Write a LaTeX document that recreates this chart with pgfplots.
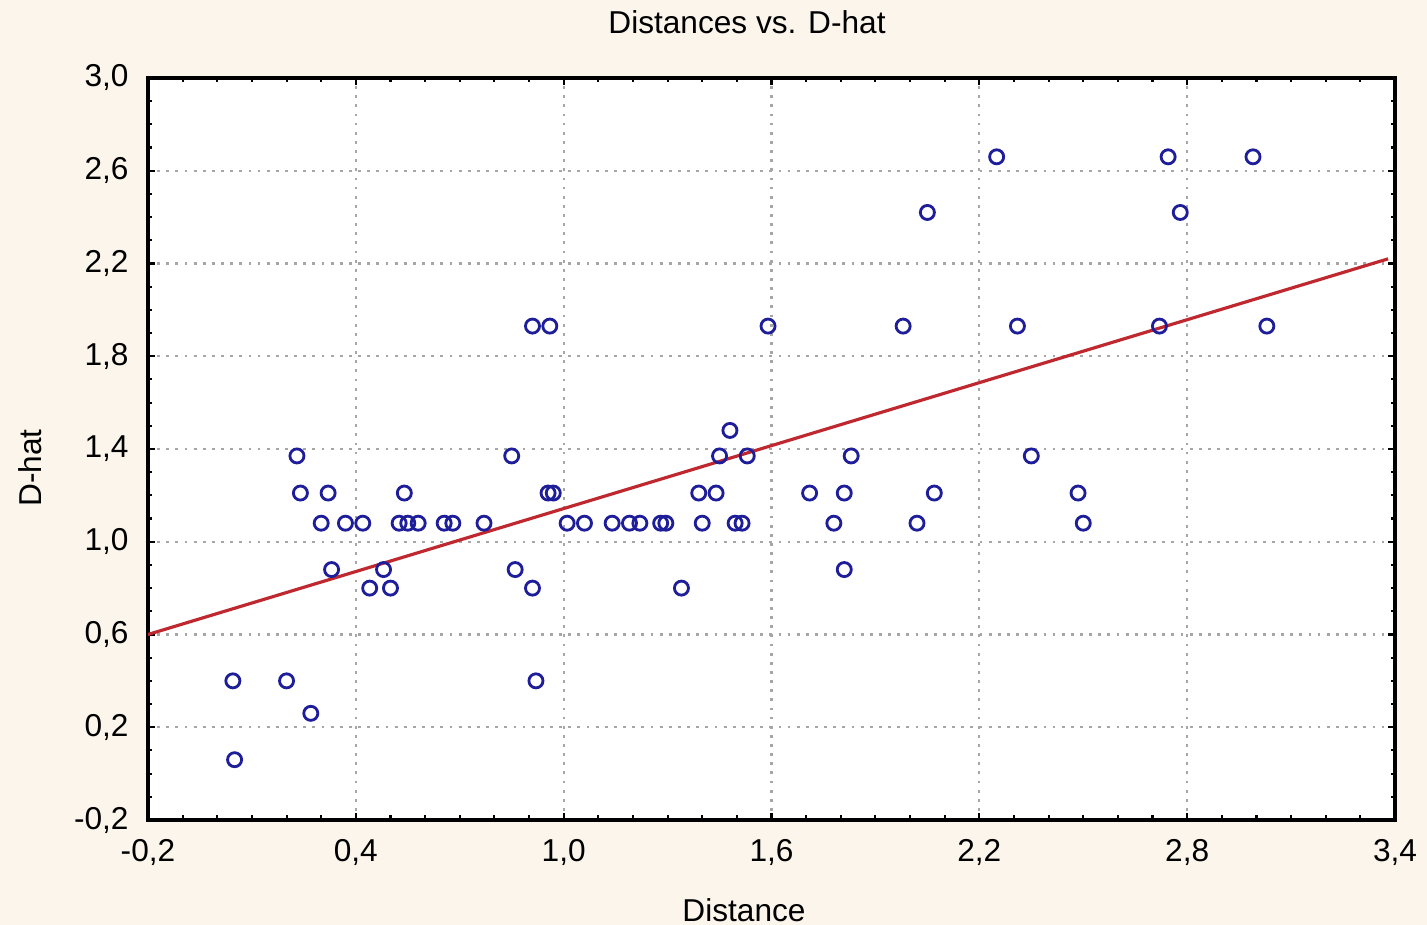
\documentclass[border=0pt]{standalone}
\usepackage{fontspec}
\setmainfont{Liberation Sans}
\usepackage{pgfplots}
\pgfplotsset{compat=1.18}

\definecolor{bgcream}{HTML}{FCF5EC}
\definecolor{ptblue}{HTML}{1E1E9A}
\definecolor{fitred}{HTML}{C02830}

\pgfplotstableread{
x y
2.25 2.66
2.745 2.66
2.99 2.66
2.05 2.42
2.78 2.42
0.91 1.93
0.96 1.93
1.59 1.93
1.98 1.93
2.31 1.93
2.72 1.93
3.03 1.93
1.48 1.48
0.23 1.37
0.85 1.37
1.45 1.37
1.53 1.37
1.83 1.37
2.35 1.37
0.24 1.21
0.32 1.21
0.54 1.21
0.955 1.21
0.97 1.21
1.39 1.21
1.44 1.21
1.71 1.21
1.81 1.21
2.07 1.21
2.485 1.21
0.30 1.08
0.37 1.08
0.42 1.08
0.525 1.08
0.55 1.08
0.58 1.08
0.655 1.08
0.68 1.08
0.77 1.08
1.01 1.08
1.06 1.08
1.14 1.08
1.19 1.08
1.22 1.08
1.28 1.08
1.295 1.08
1.40 1.08
1.495 1.08
1.515 1.08
1.78 1.08
2.02 1.08
2.50 1.08
0.33 0.88
0.48 0.88
0.86 0.88
1.81 0.88
0.44 0.80
0.50 0.80
0.91 0.80
1.34 0.80
0.045 0.40
0.20 0.40
0.92 0.40
0.27 0.26
0.05 0.06
}\distdata

\begin{document}
\begin{tikzpicture}
\fill[bgcream] (-1.48cm,-1.05cm) rectangle (12.79cm,8.20cm);
\begin{axis}[
  scale only axis,
  width=12.47cm, height=7.42cm,
  xmin=-0.2, xmax=3.4, ymin=-0.2, ymax=3.0,
  xtick={-0.2,0.4,1.0,1.6,2.2,2.8,3.4},
  ytick={-0.2,0.2,0.6,1.0,1.4,1.8,2.2,2.6,3.0},
  minor x tick num=5,
  minor y tick num=3,
  tick align=inside,
  major tick length=0.07cm,
  minor tick length=0.045cm,
  every tick/.style={black, line width=0.6pt},
  axis line style={line width=1pt},
  axis background/.style={fill=white},
  grid=major,
  major grid style={gray!70, line width=0.6pt, dash pattern=on 0.8pt off 1.8pt},
  font=\fontsize{9}{11}\selectfont,
  /pgf/number format/.cd, use comma, fixed, fixed zerofill, precision=1, assume math mode=true,
  /pgfplots/.cd,
  xticklabel style={yshift=-2pt},
  yticklabel style={xshift=-2pt},
]
\addplot[fitred, line width=0.9pt] coordinates {(-0.2,0.60) (3.38,2.22)};
\addplot[only marks, mark=o, mark size=2pt, mark options={ptblue, line width=0.8pt}] table {\distdata};
\end{axis}
\node[font=\fontsize{9}{11}\selectfont] at (5.99cm,7.98cm) {Distances vs. D-hat};
\node[font=\fontsize{9}{11}\selectfont] at (5.96cm,-0.90cm) {Distance};
\node[font=\fontsize{9}{11}\selectfont, rotate=90] at (-1.18cm,3.52cm) {D-hat};
\pgfresetboundingbox
\useasboundingbox (-1.48cm,-1.05cm) rectangle (12.79cm,8.20cm);
\end{tikzpicture}
\end{document}
